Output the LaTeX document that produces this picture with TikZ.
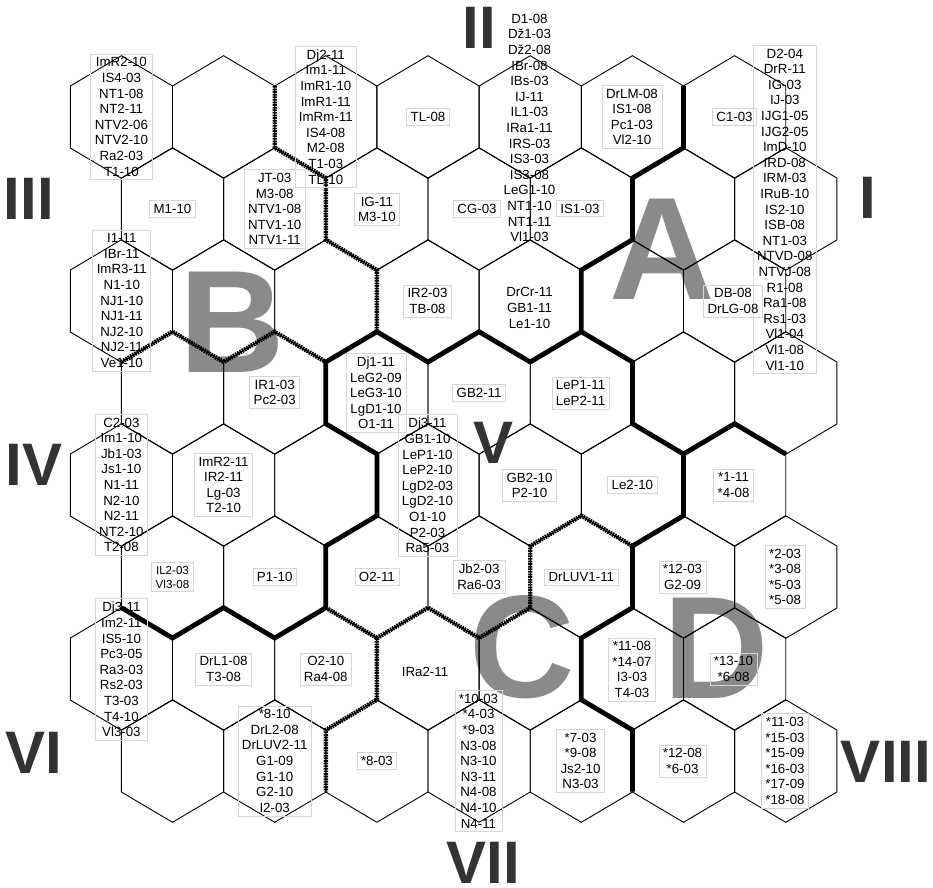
\documentclass[tikz,border=0pt]{standalone}
\usepackage{fontspec}
\setmainfont{Liberation Sans}
\definecolor{boxgray}{RGB}{214,214,214}
\definecolor{biggray}{RGB}{138,138,138}
\definecolor{numgray}{RGB}{51,51,51}
\newcommand\lblfont{\fontsize{13.3}{15.6}\selectfont}
\newcommand\smlfont{\fontsize{11.6}{14}\selectfont}
\begin{document}
\begin{tikzpicture}[x=1pt,y=-1pt,
  hexline/.style={black,line width=0.9pt,line join=miter},
  bound/.style={black,line width=4.8pt,line join=miter},
  hatch/.style={black,line width=4.4pt,dash pattern=on 1.7pt off 0.9pt},
  lab/.style={draw=boxgray,line width=0.7pt,align=center,inner xsep=4pt,inner ysep=3.5pt,font=\lblfont,text=black},
  labnb/.style={lab,draw=none},
  labsm/.style={lab,font=\smlfont},
  bigletter/.style={text=biggray,font=\fontsize{146}{146}\selectfont\bfseries,inner sep=0pt,anchor=base},
  roman/.style={text=numgray,font=\fontsize{60}{60}\selectfont\bfseries,inner sep=0pt,anchor=base}]
\useasboundingbox (0,0) rectangle (933,887);
\fill[white] (0,0) rectangle (933,887);

% big region letters (behind the grid)
\node[bigletter] (bigA) at (662,299) {A};
\node[bigletter] (bigB) at (232,372) {B};
\node[bigletter] (bigC) at (522,697) {C};
\node[bigletter] (bigD) at (716,698) {D};

% hexagon grid
\foreach \r in {0,...,7}{
  \foreach \k in {0,...,6}{
    \pgfmathsetmacro\cx{121.4+51.1*mod(\r,2)+102.2*\k}
    \pgfmathsetmacro\cy{117+92*\r}
    \draw[hexline] (\cx,\cy-61.3) -- ++(51.1,30.3) -- ++(0,62) -- ++(-51.1,30.3) -- ++(-51.1,-30.3) -- ++(0,-62) -- cycle;
  }
}

% thick boundaries
\draw[bound] (683.5,86) -- (683.5,147.7) -- (632.4,178) -- (632.4,239.7) -- (581.3,270) -- (581.3,331.7) -- (632.4,362) -- (632.4,423.7) -- (683.5,454) -- (683.5,515.7) -- (632.4,546) -- (632.4,607.7) -- (581.3,638) -- (581.3,699.7) -- (632.4,730) -- (632.4,791.7);
\draw[bound] (683.5,454) -- (734.6,423.7) -- (785.7,454);
\draw[bound] (581.3,331.7) -- (530.2,362) -- (479.1,331.7) -- (428,362) -- (376.9,331.7) -- (325.8,362) -- (325.8,423.7) -- (376.9,454) -- (376.9,515.7) -- (325.8,546) -- (325.8,607.7) -- (274.7,638) -- (223.6,607.7) -- (172.5,638) -- (121.4,607.7);

% hatched boundaries
\draw[hatch] (274.7,86) -- (274.7,147.7) -- (325.8,178) -- (325.8,239.7) -- (376.9,270) -- (376.9,331.7);
\draw[hatch] (121.4,362) -- (172.5,331.7) -- (223.6,362) -- (274.7,331.7) -- (325.8,362);
\draw[hatch] (325.8,607.7) -- (376.9,638) -- (376.9,699.7) -- (325.8,730) -- (325.8,791.7);
\draw[hatch] (376.9,638) -- (428,607.7) -- (479.1,638) -- (530.2,607.7) -- (530.2,546) -- (581.3,515.7) -- (632.4,546);

% labels row 1
\node[lab] (r1a) at (121.4,117) {ImR2-10\\IS4-03\\NT1-08\\NT2-11\\NTV2-06\\NTV2-10\\Ra2-03\\T1-10};
\node[lab] (r1c) at (325.8,117) {Dj2-11\\Im1-11\\ImR1-10\\ImR1-11\\ImRm-11\\IS4-08\\M2-08\\T1-03\\TL-10};
\node[lab] (r1d) at (428,117) {TL-08};
\node[labnb] (r1e) at (529.5,128) {D1-08\\Dž1-03\\Dž2-08\\IBr-08\\IBs-03\\IJ-11\\IL1-03\\IRa1-11\\IRS-03\\IS3-03\\IS3-08\\LeG1-10\\NT1-10\\NT1-11\\Vl1-03};
\node[lab] (r1f) at (632,117) {DrLM-08\\IS1-08\\Pc1-03\\Vl2-10};
\node[lab] (r1g) at (734.5,117) {C1-03};
\node[lab] (r2g) at (784.8,209.5) {D2-04\\DrR-11\\IG-03\\IJ-03\\IJG1-05\\IJG2-05\\ImD-10\\IRD-08\\IRM-03\\IRuB-10\\IS2-10\\ISB-08\\NT1-03\\NTVD-08\\NTVJ-08\\R1-08\\Ra1-08\\Rs1-03\\Vl1-04\\Vl1-08\\Vl1-10};

% labels row 2
\node[lab] (r2a) at (172.5,209) {M1-10};
\node[lab] (r2b) at (274.7,209) {JT-03\\M3-08\\NTV1-08\\NTV1-10\\NTV1-11};
\node[lab] (r2c) at (376.9,209.5) {IG-11\\M3-10};
\node[lab] (r2d) at (477,209) {CG-03};
\node[lab] (r2e) at (580,208.5) {IS1-03};

% labels row 3
\node[lab] (r3a) at (121.8,300.5) {I1-11\\IBr-11\\ImR3-11\\N1-10\\NJ1-10\\NJ1-11\\NJ2-10\\NJ2-11\\Ve1-10};
\node[lab] (r3d) at (427.5,301) {IR2-03\\TB-08};
\node[labnb] (r3e) at (529.5,308) {DrCr-11\\GB1-11\\Le1-10};
\node[lab] (r3g) at (733,301) {DB-08\\DrLG-08};

% labels row 4
\node[lab] (r4b) at (274.7,392.5) {IR1-03\\Pc2-03};
\node[lab] (r4c) at (376,393) {Dj1-11\\LeG2-09\\LeG3-10\\LgD1-10\\O1-11};
\node[lab] (r4d) at (479.1,393) {GB2-11};
\node[lab] (r4e) at (580.5,393) {LeP1-11\\LeP2-11};

% labels row 5
\node[lab] (r5a) at (121.4,485) {C2-03\\Im1-10\\Jb1-03\\Js1-10\\N1-11\\N2-10\\N2-11\\NT2-10\\T2-08};
\node[lab] (r5b) at (223.6,485) {ImR2-11\\IR2-11\\Lg-03\\T2-10};
\node[lab] (r5d) at (427.5,485.5) {Dj3-11\\GB1-10\\LeP1-10\\LeP2-10\\LgD2-03\\LgD2-10\\O1-10\\P2-03\\Ra5-03};
\node[lab] (r5e) at (529.5,485.5) {GB2-10\\P2-10};
\node[lab] (r5f) at (632.4,485) {Le2-10};
\node[lab] (r5g) at (733.5,485) {*1-11\\*4-08};

% labels row 6
\node[labsm] (r6a) at (172.5,577) {IL2-03\\Vl3-08};
\node[lab] (r6b) at (274.7,577) {P1-10};
\node[lab] (r6c) at (376.9,577) {O2-11};
\node[lab] (r6d) at (479.1,577) {Jb2-03\\Ra6-03};
\node[lab] (r6e) at (581.3,577) {DrLUV1-11};
\node[lab] (r6f) at (682.5,577) {*12-03\\G2-09};
\node[lab] (r6g) at (785,577) {*2-03\\*3-08\\*5-03\\*5-08};

% labels row 7
\node[lab] (r7a) at (121.4,669.5) {Dj3-11\\Im2-11\\IS5-10\\Pc3-05\\Ra3-03\\Rs2-03\\T3-03\\T4-10\\Vl3-03};
\node[lab] (r7b) at (223.6,669) {DrL1-08\\T3-08};
\node[lab] (r7c) at (325.8,669) {O2-10\\Ra4-08};
\node[labnb] (r7d) at (425,672) {IRa2-11};
\node[lab] (r7f) at (632,669.5) {*11-08\\*14-07\\I3-03\\T4-03};
\node[lab] (r7g) at (733.5,669) {*13-10\\*6-08};

% labels row 8
\node[lab] (r8b) at (274.7,761) {*8-10\\DrL2-08\\DrLUV2-11\\G1-09\\G1-10\\G2-10\\I2-03};
\node[lab] (r8c) at (376.9,761) {*8-03};
\node[lab] (r8d) at (478.5,761) {*10-03\\*4-03\\*9-03\\N3-08\\N3-10\\N3-11\\N4-08\\N4-10\\N4-11};
\node[lab] (r8e) at (580.5,761) {*7-03\\*9-08\\Js2-10\\N3-03};
\node[lab] (r8f) at (682.5,761) {*12-08\\*6-03};
\node[lab] (r8g) at (785,761) {*11-03\\*15-03\\*15-09\\*16-03\\*17-09\\*18-08};

% roman numerals
\node[roman] (numI) at (868,218.5) {I};
\node[roman] (numII) at (479,48) {II};
\node[roman] (numIII) at (29,219) {III};
\node[roman] (numIV) at (34,485) {IV};
\node[roman] (numV) at (494,463) {V};
\node[roman] (numVI) at (34,773) {VI};
\node[roman] (numVII) at (483,883) {VII};
\node[roman] (numVIII) at (886,782.5) {VIII};
\end{tikzpicture}
\end{document}
